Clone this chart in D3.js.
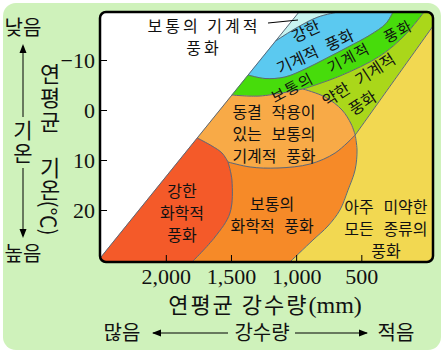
<!DOCTYPE html>
<html>
<head>
<meta charset="utf-8">
<script src="https://cdn.jsdelivr.net/npm/d3@7"></script>
<style>
  body { margin: 0; background: #fff; }
  text { font-family: "Noto Sans CJK KR", "Noto Sans", sans-serif; fill: #111; }
</style>
</head>
<body>
<div id="chart"></div>
<script>
// ticks
const xTicks = [2000, 1500, 1000, 500];
const yTicks = [-10, 0, 10, 20];

// plot extent: precipitation (mm, decreasing to the right), temperature (C, increasing downward)
const pLeft = 2505, pRight = -50, tTop = -19.6, tBottom = 30.4;

// region boundaries, [precipitation, temperature]
const diagonal   = [[978, -19.6], [2528, 30.4]];
const cyanEdge   = [[1158, -13.8], [986, -16.6], [832, -18.6], [679, -19.6]];
const blueLow    = [[1369, -7], [1239, -6.3], [1086, -6.6], [932, -8.2], [779, -10.2], [602, -12.6], [433, -15], [311, -17.3], [257, -19.6]];
const greenLowA  = [[1493, -3], [1277, -2.8], [947, -4.2]];
const greenLowB  = [[947, -4.2], [664, -6.8], [357, -10.8], [165, -15], [19, -19.6]];
const ellipseUp  = [[947, -4.2], [778, -2.6], [648, 0], [578, 2.8], [547, 5]];
const ellipseLow = [[547, 5], [533, 8], [548, 12], [602, 16], [664, 20], [756, 23.2], [871, 26], [1048, 30.4]];
const yellowLine = [[547, 5], [-50, -16.8]];
const redUpper   = [[1759, 5.6], [1646, 7.2], [1569, 8.6], [1523, 10.4]];
const redLower   = [[1523, 10.4], [1493, 14], [1508, 20.6], [1623, 25.4], [1799, 30.4]];
const frostLow   = [[1523, 10.4], [1353, 11.4], [1139, 11.6], [893, 10.8], [701, 8.6], [547, 5]];

// labels: text lines, anchor [precipitation, temperature], rotation
const regionLabels = [
  {lines: ["보통의 기계적", "풍화"], at: [1707, -14.9], rot: 0},
  {lines: ["강한", "기계적 풍화"], at: [894, -13.9], rot: -25},
  {lines: ["보통의 기계적 풍화"], at: [652, -9.9], rot: -28},
  {lines: ["약한 기계적"], at: [525, -6.2], rot: -33},
  {lines: ["풍화"], at: [495, -1.6], rot: -33},
  {lines: ["동결 작용이", "있는 보통의", "기계적 풍화"], at: [1170, 4.5], rot: 0},
  {lines: ["강한", "화학적", "풍화"], at: [1876, 20.4], rot: 0},
  {lines: ["보통의", "화학적 풍화"], at: [1185, 20.7], rot: 0},
  {lines: ["아주 미약한", "모든 종류의", "풍화"], at: [311, 23.6], rot: 0}
];

const W = 446, H = 354;
const svg = d3.select("#chart").append("svg")
  .attr("width", W).attr("height", H);

// light green panel
svg.append("rect")
  .attr("x", 3).attr("y", 3).attr("width", 438).attr("height", 347)
  .attr("rx", 13).attr("fill", "#cff2bb");

const x = d3.scaleLinear().domain([pLeft, pRight]).range([100, 433]);
const y = d3.scaleLinear().domain([tTop, tBottom]).range([12, 262]);

const lineLin = d3.line().x(d => x(d[0])).y(d => y(d[1]));
const lineCur = d3.line().x(d => x(d[0])).y(d => y(d[1])).curve(d3.curveCatmullRom.alpha(0.5));
const rev = a => a.slice().reverse();
const seg = (pts, curved) => ({pts, curved});
function shape(parts) {
  return parts.map((p, i) => {
    const s = (p.curved ? lineCur : lineLin)(p.pts);
    return i ? s.replace(/^M/, "L") : s;
  }).join("") + "Z";
}

// clip to the rounded plot frame
const fx0 = x(pLeft), fx1 = x(pRight), fy0 = y(tTop), fy1 = y(tBottom);
svg.append("clipPath").attr("id", "frame")
  .append("rect")
  .attr("x", fx0).attr("y", fy0).attr("width", fx1 - fx0).attr("height", fy1 - fy0).attr("rx", 6);

const plot = svg.append("g").attr("clip-path", "url(#frame)");

plot.append("rect")
  .attr("x", fx0).attr("y", fy0).attr("width", fx1 - fx0).attr("height", fy1 - fy0)
  .attr("fill", "#ffffff");

const regions = [
  {color: "#c9f4f1", parts: [seg([[978, tTop], [679, tTop]]), seg(rev(cyanEdge), true), seg([[1158, -13.8], [978, tTop]])]},
  {color: "#5bc9f0", parts: [seg(cyanEdge, true), seg([[679, tTop], [257, tTop]]), seg(rev(blueLow), true), seg([[1369, -7], [1158, -13.8]])]},
  {color: "#47dc0b", parts: [seg(blueLow, true), seg([[257, tTop], [19, tTop]]), seg(rev(greenLowB), true), seg(rev(greenLowA), true), seg([[1493, -3], [1369, -7]])]},
  {color: "#aad71a", parts: [seg(greenLowB, true), seg([[19, tTop], [pRight, tTop]]), seg([[pRight, tTop], [pRight, -16.8]]), seg(rev(yellowLine)), seg(rev(ellipseUp), true)]},
  {color: "#f8aa47", parts: [seg([[1493, -3], [1759, 5.6]]), seg(redUpper, true), seg(frostLow, true), seg(rev(ellipseUp), true), seg(rev(greenLowA), true)]},
  {color: "#f68a28", parts: [seg(frostLow, true), seg(ellipseLow, true), seg([[1048, tBottom], [1799, tBottom]]), seg(rev(redLower), true)]},
  {color: "#f45a29", parts: [seg([[1759, 5.6], [2528, tBottom]]), seg([[2528, tBottom], [1799, tBottom]]), seg(rev(redLower), true), seg(rev(redUpper), true)]},
  {color: "#f2d851", parts: [seg(ellipseLow, true), seg([[1048, tBottom], [pRight, tBottom]]), seg([[pRight, tBottom], [pRight, -16.8]]), seg(rev(yellowLine))]}
];

plot.selectAll("path.region")
  .data(regions)
  .join("path")
  .attr("class", "region")
  .attr("d", d => shape(d.parts))
  .attr("fill", d => d.color)
  .attr("stroke", d => d.color)
  .attr("stroke-width", 0.5);

// boundary lines
const straight = [diagonal, yellowLine];
const curved = [cyanEdge, blueLow, greenLowA, greenLowB, ellipseUp, ellipseLow, redUpper, redLower, frostLow];
plot.selectAll("path.edge-s")
  .data(straight).join("path")
  .attr("d", d => lineLin(d))
  .attr("fill", "none").attr("stroke", "#5a6878").attr("stroke-width", 1);
plot.selectAll("path.edge-c")
  .data(curved).join("path")
  .attr("d", d => lineCur(d))
  .attr("fill", "none").attr("stroke", "#5a6878").attr("stroke-width", 1);

// frame
svg.append("rect")
  .attr("x", fx0).attr("y", fy0).attr("width", fx1 - fx0).attr("height", fy1 - fy0)
  .attr("rx", 6).attr("fill", "none").attr("stroke", "#000").attr("stroke-width", 2.5);

// axes
const yAxis = svg.append("g")
  .attr("transform", `translate(${fx0},0)`)
  .call(d3.axisLeft(y).tickValues(yTicks).tickSize(-7).tickPadding(5));
const xAxis = svg.append("g")
  .attr("transform", `translate(0,${fy1})`)
  .call(d3.axisBottom(x).tickValues(xTicks).tickSize(-7).tickPadding(6).tickFormat(d3.format(",")));
[yAxis, xAxis].forEach(g => {
  g.select(".domain").remove();
  g.selectAll(".tick line").attr("stroke", "#000").attr("stroke-width", 1);
  g.selectAll(".tick text")
    .style("font-family", "'Liberation Serif', 'DejaVu Serif', serif")
    .style("font-size", "22px")
    .attr("fill", "#111");
});

// region labels
const lh = 22;
regionLabels.forEach((lab, k) => {
  const t = svg.append("text")
    .attr("transform", `translate(${x(lab.at[0])},${y(lab.at[1])}) rotate(${lab.rot})`)
    .attr("text-anchor", "middle")
    .style("font-size", k === 2 ? "15px" : "16px");
  if (k === 0) t.style("word-spacing", "0px").style("letter-spacing", "3px");
  else if (k === 2) t.style("word-spacing", "13px").style("letter-spacing", "1.5px");
  else t.style("word-spacing", "6px");
  lab.lines.forEach((ln, i) => {
    t.append("tspan")
      .attr("x", 0)
      .attr("y", (i - (lab.lines.length - 1) / 2) * lh)
      .attr("dominant-baseline", "central")
      .text(ln);
  });
});

// leader line for the small region at the top
svg.append("path")
  .attr("d", lineLin([[1216, -17.4], [986, -18]]))
  .attr("stroke", "#000").attr("stroke-width", 1);

// x axis title and direction
svg.append("text")
  .attr("x", 265).attr("y", 313)
  .attr("text-anchor", "middle")
  .style("font-size", "22px")
  .style("letter-spacing", "2px")
  .text("연평균 강수량")
  .append("tspan")
  .style("font-family", "'Liberation Serif', serif")
  .style("font-size", "24px")
  .style("letter-spacing", "0px")
  .text("(mm)");

const arrowHead = (x0, y0, dir, horiz) => {
  // dir: +1 or -1, tip at (x0,y0)
  const len = 9, half = 3.5;
  return horiz
    ? `M${x0},${y0}L${x0 - dir * len},${y0 - half}L${x0 - dir * len},${y0 + half}Z`
    : `M${x0},${y0}L${x0 - half},${y0 - dir * len}L${x0 + half},${y0 - dir * len}Z`;
};
const deco = svg.append("g");
deco.append("text").attr("x", 122).attr("y", 340).attr("text-anchor", "middle").style("font-size", "20px").text("많음");
deco.append("text").attr("x", 262).attr("y", 340).attr("text-anchor", "middle").style("font-size", "20px").text("강수량");
deco.append("text").attr("x", 396).attr("y", 340).attr("text-anchor", "middle").style("font-size", "20px").text("적음");
deco.append("line").attr("x1", 153).attr("x2", 228).attr("y1", 333).attr("y2", 333).attr("stroke", "#000");
deco.append("line").attr("x1", 295).attr("x2", 367).attr("y1", 333).attr("y2", 333).attr("stroke", "#000");
deco.append("path").attr("d", arrowHead(152, 333, -1, true)).attr("fill", "#000");
deco.append("path").attr("d", arrowHead(368, 333, 1, true)).attr("fill", "#000");

// y axis direction
deco.append("text").attr("x", 23).attr("y", 26).attr("text-anchor", "middle").attr("dominant-baseline", "central").style("font-size", "20px").text("낮음");
deco.append("text").attr("x", 23).attr("y", 120)
  .style("writing-mode", "vertical-rl").style("font-size", "21px").style("letter-spacing", "2px")
  .text("기온");
deco.append("text").attr("x", 23).attr("y", 252).attr("text-anchor", "middle").attr("dominant-baseline", "central").style("font-size", "20px").text("높음");
deco.append("line").attr("x1", 23).attr("x2", 23).attr("y1", 46).attr("y2", 117).attr("stroke", "#000");
deco.append("line").attr("x1", 23).attr("x2", 23).attr("y1", 168).attr("y2", 236).attr("stroke", "#000");
deco.append("path").attr("d", arrowHead(23, 44, -1, false)).attr("fill", "#000");
deco.append("path").attr("d", arrowHead(23, 238, 1, false)).attr("fill", "#000");

// y axis title (vertical)
deco.append("text").attr("x", 50).attr("y", 63)
  .style("writing-mode", "vertical-rl").style("font-size", "22px").style("letter-spacing", "2px")
  .text("연평균");
deco.append("text").attr("x", 50).attr("y", 157)
  .style("writing-mode", "vertical-rl").style("font-size", "22px")
  .text("기온");
deco.append("text")
  .attr("transform", "translate(50,218) rotate(90)")
  .attr("text-anchor", "middle").attr("dominant-baseline", "central")
  .style("font-size", "21px")
  .text("(℃)");
</script>
</body>
</html>
